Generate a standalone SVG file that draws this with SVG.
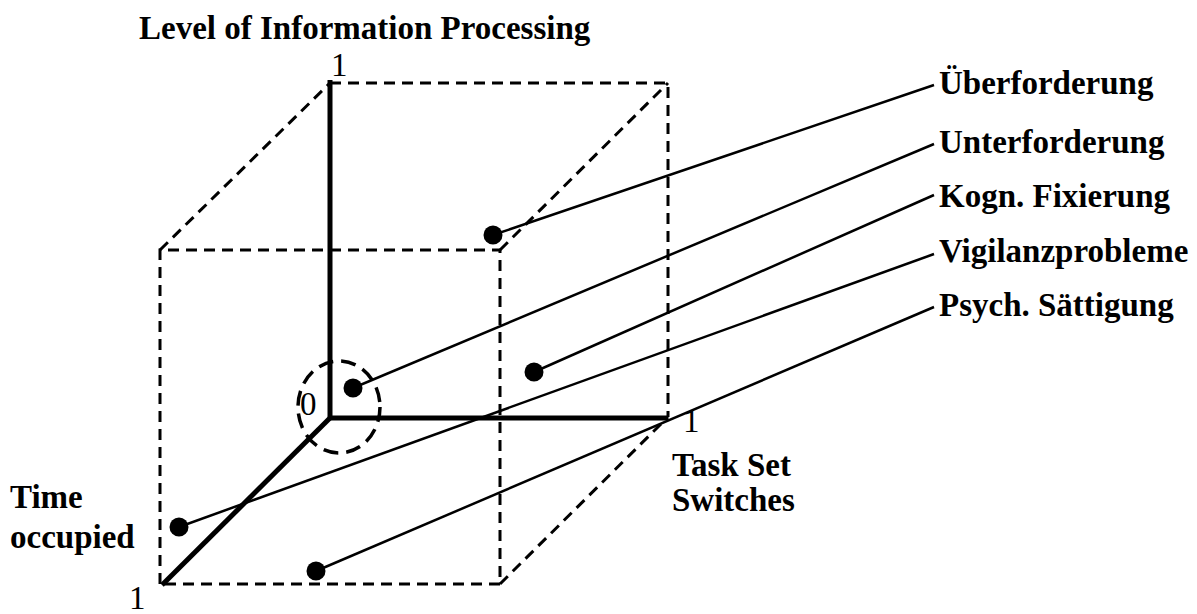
<svg xmlns="http://www.w3.org/2000/svg" width="1197" height="614" viewBox="0 0 1197 614">
<style>
.dash{fill:none;stroke:#000;stroke-width:3;stroke-dasharray:11 7}
.axis{fill:none;stroke:#000;stroke-width:5;stroke-linecap:butt}
.lead{fill:none;stroke:#000;stroke-width:2.5}
.dot{fill:#000}
.lbl{font-family:"Liberation Serif","Times New Roman",serif;font-weight:bold;font-size:33px;fill:#000}
.num{font-family:"Liberation Serif","Times New Roman",serif;font-size:33px;fill:#000}
</style>
<rect width="1197" height="614" fill="#fff"/>
<g id="cube">
<path class="dash" d="M330,83 H668 V417"/>
<path class="dash" d="M160,584 V250 H500 V584 H160"/>
<path class="dash" d="M160,250 L330,83"/>
<path class="dash" d="M500,250 L668,83"/>
<path class="dash" d="M500,584 L668,417"/>
</g>
<g id="axes">
<path class="axis" d="M330,80 V418 H668"/>
<path class="axis" d="M331,417 L162,585"/>
<ellipse cx="339" cy="407" rx="41" ry="46" fill="none" stroke="#000" stroke-width="3.5" stroke-dasharray="15 8"/>
</g>
<g id="connectors">
<line class="lead" x1="493" y1="235" x2="934" y2="85"/>
<line class="lead" x1="353" y1="388" x2="934" y2="144"/>
<line class="lead" x1="534" y1="372" x2="934" y2="195"/>
<line class="lead" x1="179" y1="527" x2="934" y2="254"/>
<line class="lead" x1="316" y1="571" x2="934" y2="307"/>
</g>
<g id="dots">
<circle class="dot" cx="493" cy="235" r="9.5"/>
<circle class="dot" cx="353" cy="388" r="9.5"/>
<circle class="dot" cx="534" cy="372" r="9.5"/>
<circle class="dot" cx="179" cy="527" r="9.5"/>
<circle class="dot" cx="316" cy="571" r="9.5"/>
</g>
<g id="axis-labels">
<text class="lbl" x="139" y="39">Level of Information Processing</text>
<text class="num" x="331" y="76">1</text>
<text class="num" x="300" y="415">0</text>
<text class="num" x="683" y="432">1</text>
<text class="num" x="129" y="609">1</text>
<text class="lbl" x="672" y="476">Task Set</text>
<text class="lbl" x="672" y="511">Switches</text>
<text class="lbl" x="10" y="508">Time</text>
<text class="lbl" x="10" y="548">occupied</text>
</g>
<g id="n-ueberforderung"><text class="lbl" x="939" y="94">Überforderung</text></g>
<g id="n-unterforderung"><text class="lbl" x="939" y="153">Unterforderung</text></g>
<g id="n-kogn"><text class="lbl" x="939" y="207">Kogn. Fixierung</text></g>
<g id="n-vigilanz"><text class="lbl" x="939" y="262">Vigilanzprobleme</text></g>
<g id="n-psych"><text class="lbl" x="939" y="316">Psych. Sättigung</text></g>
</svg>
